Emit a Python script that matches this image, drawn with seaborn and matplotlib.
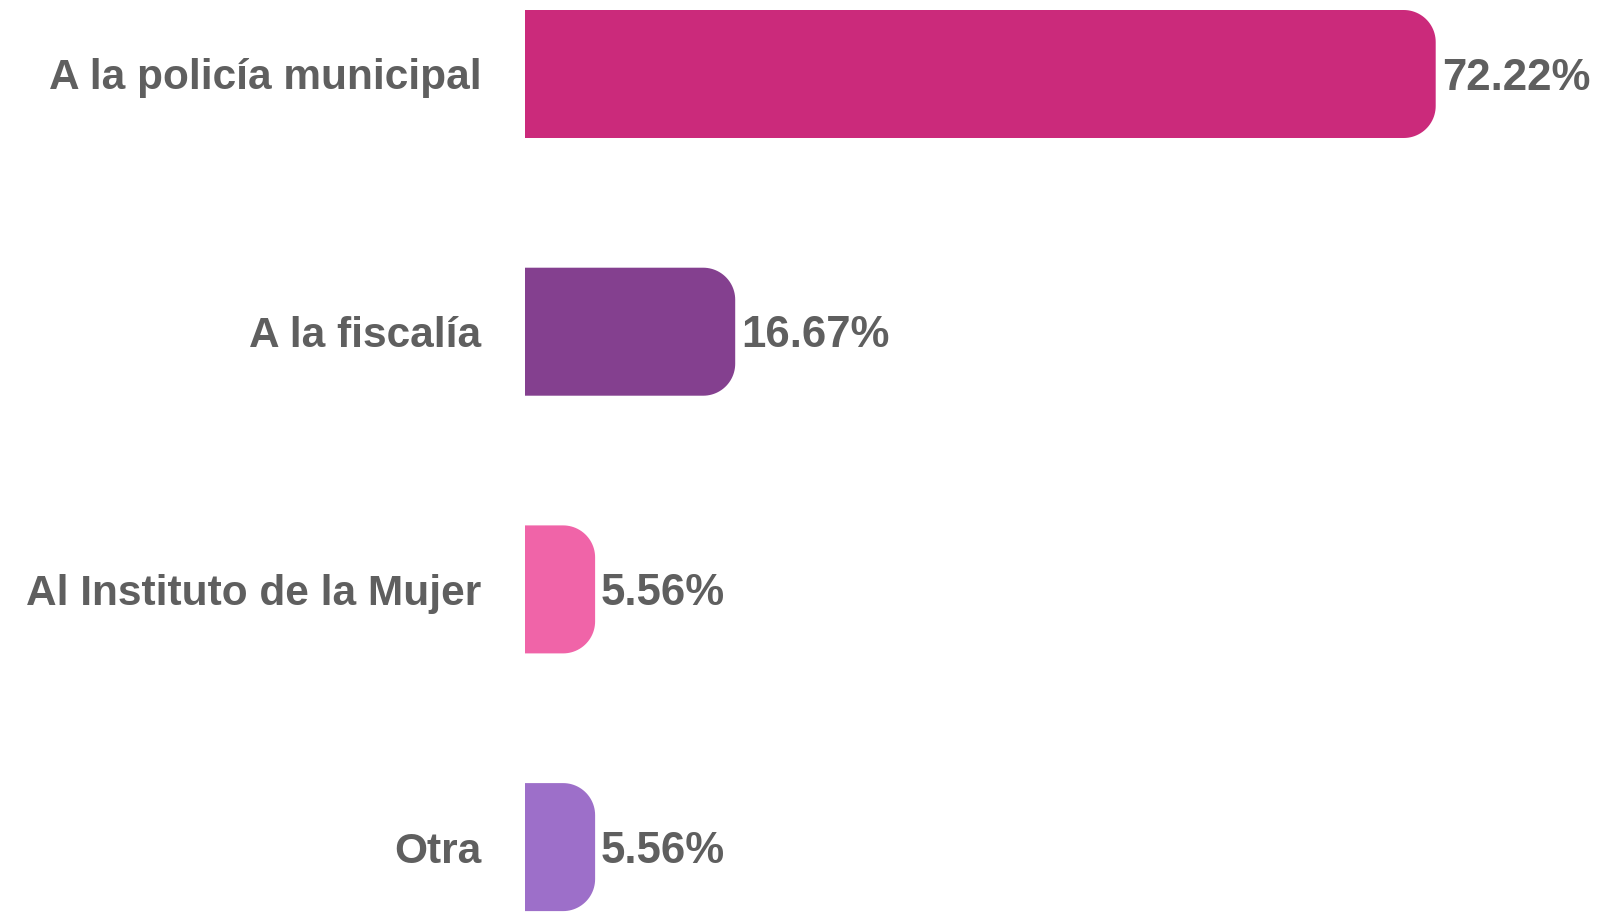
import matplotlib
matplotlib.use("Agg")
import matplotlib.pyplot as plt
import seaborn as sns
import numpy as np
import pandas as pd
from matplotlib.patches import Polygon

categories = ["A la policía municipal", "A la fiscalía", "Al Instituto de la Mujer", "Otra"]
values = [72.22, 16.67, 5.56, 5.56]
labels = ["72.22%", "16.67%", "5.56%", "5.56%"]
colors = ["#CB2A7B", "#84408F", "#F064A8", "#9D6FC9"]

TEXT = "#5F5F5F"
sns.set_theme(style="white")
plt.rcParams["font.family"] = ["Liberation Sans", "DejaVu Sans"]

W, H, DPI = 1604, 913, 100
fig = plt.figure(figsize=(W / DPI, H / DPI), dpi=DPI)
left_px = 525
ax = fig.add_axes([left_px / W, 0, 1 - left_px / W, 1])

df = pd.DataFrame({"cat": categories, "val": values})
spacing = 257.7
sns.barplot(data=df, x="val", y="cat", hue="cat", palette=colors, legend=False,
            width=128 / spacing, ax=ax, saturation=1)

px_per_unit = 12.61
ax.set_xlim(0, (W - left_px) / px_per_unit)
c0 = 74.0
ax.set_ylim((H - c0) / spacing, -c0 / spacing)

# replace bars with right-rounded shapes
r_px = 32
rx = r_px / px_per_unit
ry = r_px / spacing
for p in list(ax.patches):
    x0, y0 = p.get_x(), p.get_y()
    w, h = p.get_width(), p.get_height()
    fc = p.get_facecolor()
    x1, y1 = x0 + w, y0 + h
    t = np.linspace(0, np.pi / 2, 24)
    pts = [(x0, y0)]
    cx, cy = x1 - rx, y0 + ry
    pts += [(cx + rx * np.sin(a), cy - ry * np.cos(a)) for a in t]
    cx, cy = x1 - rx, y1 - ry
    pts += [(cx + rx * np.cos(a), cy + ry * np.sin(a)) for a in t]
    pts += [(x0, y1)]
    p.remove()
    ax.add_patch(Polygon(pts, closed=True, facecolor=fc, edgecolor="none"))

for i, (v, lab) in enumerate(zip(values, labels)):
    ax.annotate(lab, xy=(v, i), xytext=(6, -15.5), textcoords="offset pixels",
                ha="left", va="baseline", fontsize=31.5, fontweight="bold", color=TEXT)

ax.set_xlabel("")
ax.set_ylabel("")
ax.set_xticks([])
ax.tick_params(axis="y", length=0, pad=31.5)
for t in ax.get_yticklabels():
    t.set_fontsize(30.5)
    t.set_fontweight("bold")
    t.set_color(TEXT)
for s in ax.spines.values():
    s.set_visible(False)

fig.savefig("out.png", dpi=DPI)
